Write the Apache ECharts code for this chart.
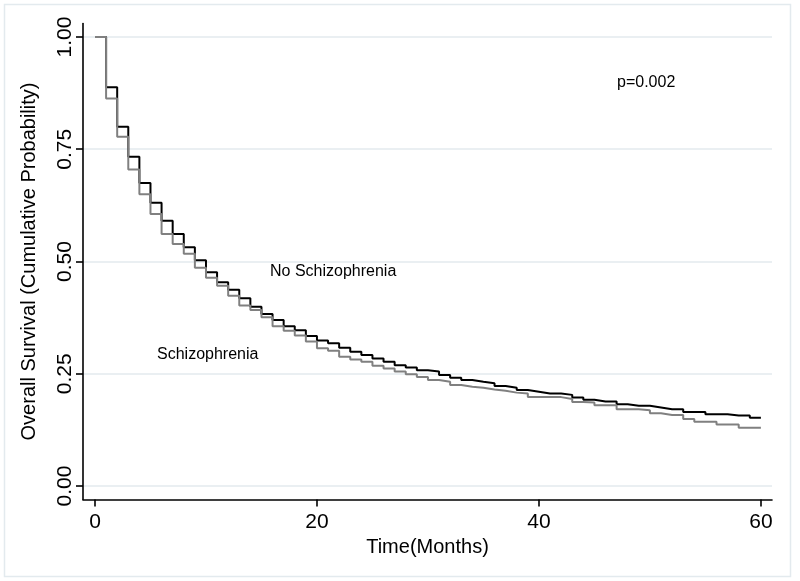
<!DOCTYPE html>
<html>
<head>
<meta charset="utf-8">
<script src="https://cdn.jsdelivr.net/npm/echarts@6/dist/echarts.min.js"></script>
<style>html,body{margin:0;padding:0;background:#fff}#c{width:800px;height:581px}</style>
</head>
<body>
<div id="c"></div>
<script>
// Months (step times)
const months = [0,1,2,3,4,5,6,7,8,9,10,11,12,13,14,15,16,17,18,19,20,21,22,23,24,25,26,27,28,29,30,
  31,32,33,34,35,36,37,38,39,40,41,42,43,44,45,46,47,48,49,50,51,52,53,54,55,56,57,58,59,60];
// Overall survival, No Schizophrenia (black)
const noSchizo = [1.000,0.888,0.800,0.733,0.675,0.631,0.591,0.561,0.532,0.503,0.476,0.454,0.437,0.418,0.399,
  0.383,0.370,0.356,0.347,0.334,0.324,0.318,0.308,0.299,0.292,0.284,0.277,0.269,0.264,0.258,0.255,
  0.247,0.241,0.236,0.232,0.229,0.223,0.219,0.214,0.210,0.206,0.206,0.203,0.197,0.192,0.188,0.188,
  0.182,0.179,0.179,0.175,0.171,0.171,0.165,0.165,0.160,0.160,0.157,0.157,0.152,0.152];
// Overall survival, Schizophrenia (gray)
const schizo = [1.000,0.863,0.778,0.705,0.650,0.606,0.561,0.539,0.517,0.486,0.464,0.446,0.424,0.402,0.392,
  0.376,0.356,0.346,0.335,0.322,0.307,0.301,0.288,0.282,0.277,0.268,0.262,0.255,0.249,0.243,0.236,
  0.232,0.225,0.221,0.219,0.215,0.212,0.208,0.206,0.198,0.198,0.198,0.194,0.187,0.186,0.180,0.180,
  0.171,0.171,0.169,0.162,0.158,0.158,0.149,0.143,0.143,0.137,0.137,0.130,0.130,0.130];
const xTicks = [0,20,40,60];
const yTicks = [0,0.25,0.5,0.75,1];
const seriesNames = ['No Schizophrenia','Schizophrenia'];

const FONT = '"Liberation Sans", Helvetica, Arial, sans-serif';
const chart = echarts.init(document.getElementById('c'), null, {renderer:'canvas'});
const pair = (vals) => months.map((m,i) => [m, vals[i]]);

chart.setOption({
  animation: false,
  backgroundColor: '#ffffff',
  grid: {left: 83, right: 28, top: 23.5, bottom: 81.5},
  xAxis: {
    type: 'value', min: -1.08, max: 61,
    name: 'Time(Months)', nameLocation: 'middle', nameGap: 38,
    nameTextStyle: {fontFamily: FONT, fontSize: 20, color: '#000'},
    axisLine: {show: true, onZero: false, lineStyle: {color: '#000', width: 1.6}},
    axisTick: {show: true, length: 7, lineStyle: {color: '#000', width: 1.6}, customValues: xTicks},
    axisLabel: {fontFamily: FONT, fontSize: 21, color: '#000', margin: 12, customValues: xTicks},
    splitLine: {show: false}
  },
  yAxis: {
    type: 'value', min: -0.03, max: 1.03,
    name: 'Overall Survival (Cumulative Probability)', nameLocation: 'middle', nameGap: 44,
    nameTextStyle: {fontFamily: FONT, fontSize: 20, color: '#000'},
    axisLine: {show: true, onZero: false, lineStyle: {color: '#000', width: 1.6}},
    axisTick: {show: true, length: 7, lineStyle: {color: '#000', width: 1.6}, customValues: yTicks},
    axisLabel: {fontFamily: FONT, fontSize: 21, color: '#000', margin: 7, rotate: 90,
      customValues: yTicks, formatter: v => v.toFixed(2)},
    splitLine: {show: false}
  },
  graphic: [
    {type: 'rect', shape: {x: 4.5, y: 4.5, width: 786, height: 572}, style: {fill: 'none', stroke: '#e3eaee', lineWidth: 1.5}, z: -1},
    {type: 'text', left: 617, top: 75, style: {text: 'p=0.002', font: '16px ' + FONT, fill: '#000'}},
    {type: 'text', left: 270, top: 264, style: {text: seriesNames[0], font: '16px ' + FONT, fill: '#000'}},
    {type: 'text', left: 157, top: 347, style: {text: seriesNames[1], font: '16px ' + FONT, fill: '#000'}}
  ],
  series: [
    {
      name: seriesNames[0], type: 'line', step: 'end', symbol: 'none',
      data: pair(noSchizo),
      lineStyle: {color: '#000000', width: 2},
      markLine: {
        silent: true, symbol: 'none', label: {show: false}, z: 0,
        lineStyle: {color: '#e3eaee', width: 1.5, type: 'solid'},
        data: yTicks.map(v => ({yAxis: v}))
      },
      z: 3
    },
    {
      name: seriesNames[1], type: 'line', step: 'end', symbol: 'none',
      data: pair(schizo),
      lineStyle: {color: '#808080', width: 2},
      z: 4
    }
  ]
});
</script>
</body>
</html>
